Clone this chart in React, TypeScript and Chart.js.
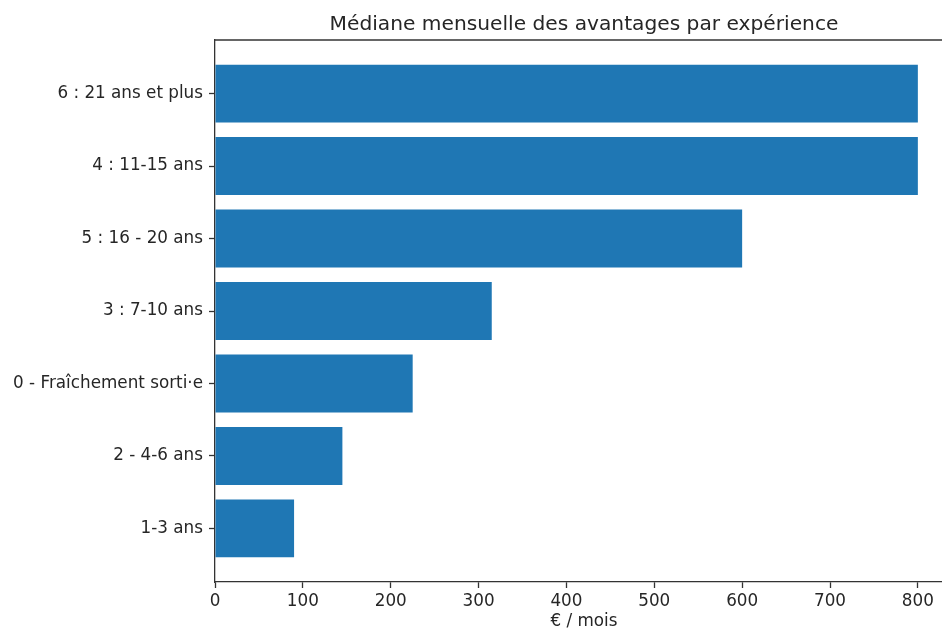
import React, { useEffect, useRef } from "react";
import { Chart, registerables } from "chart.js";

Chart.register(...registerables);

const categories: string[] = [
  "6 : 21 ans et plus",
  "4 : 11-15 ans",
  "5 : 16 - 20 ans",
  "3 : 7-10 ans",
  "0 - Fraîchement sorti·e",
  "2 - 4-6 ans",
  "1-3 ans",
];
const medianValues: number[] = [800, 800, 600, 315, 225, 145, 90];
const xTickValues: number[] = [0, 100, 200, 300, 400, 500, 600, 700, 800];
const titleText = "Médiane mensuelle des avantages par expérience";
const xAxisTitle = "€ / mois";

const FONT = "'DejaVu Sans', 'Noto Sans', sans-serif";
const TEXT = "#262626";
const AXIS = "#333333";

export default function App() {
  const ref = useRef<HTMLCanvasElement | null>(null);

  useEffect(() => {
    if (!ref.current) return;
    const framePlugin = {
      id: "frame",
      afterDraw(chart: any) {
        const { ctx, chartArea } = chart;
        ctx.save();
        ctx.strokeStyle = AXIS;
        ctx.lineWidth = 1.3;
        ctx.beginPath();
        ctx.moveTo(chartArea.left, chartArea.top);
        ctx.lineTo(chartArea.right, chartArea.top);
        ctx.stroke();
        ctx.fillStyle = TEXT;
        ctx.textAlign = "center";
        ctx.textBaseline = "alphabetic";
        ctx.font = `20.2px ${FONT}`;
        ctx.fillText(titleText, (chartArea.left + chartArea.right) / 2, 30);
        ctx.font = `16.8px ${FONT}`;
        ctx.fillText(xAxisTitle, (chartArea.left + chartArea.right) / 2, 626);
        ctx.restore();
      },
    };

    const chart = new Chart(ref.current, {
      type: "bar",
      data: {
        datasets: [
          {
            data: medianValues.map((v, i) => ({ x: v, y: i })) as any,
            backgroundColor: "#1f77b4",
            borderWidth: 0,
            categoryPercentage: 1,
            barPercentage: 0.8,
          },
        ],
      },
      plugins: [framePlugin],
      options: {
        indexAxis: "y",
        animation: false,
        responsive: false,
        maintainAspectRatio: false,
        layout: { padding: { left: 0, top: 40, right: 27, bottom: 0 } },
        plugins: {
          legend: { display: false },
          title: { display: false },
          tooltip: { enabled: false },
        },
        scales: {
          x: {
            type: "linear",
            min: 0,
            max: 840,
            afterBuildTicks: (axis: any) => {
              axis.ticks = xTickValues.map((v) => ({ value: v }));
            },
            afterFit: (axis: any) => {
              axis.height = 47;
            },
            grid: {
              display: true,
              drawOnChartArea: false,
              drawTicks: true,
              tickLength: 6,
              tickWidth: 1.3,
              tickColor: AXIS,
            },
            border: { display: true, color: AXIS, width: 1.3 },
            ticks: {
              padding: 4,
              maxRotation: 0,
              autoSkip: false,
              color: TEXT,
              font: { family: FONT, size: 16.8 },
            },
          },
          y: {
            type: "linear",
            min: -0.74,
            max: 6.74,
            reverse: true,
            offset: false,
            afterBuildTicks: (axis: any) => {
              axis.ticks = categories.map((_, i) => ({ value: i }));
            },
            afterFit: (axis: any) => {
              axis.width = 215;
            },
            grid: {
              display: true,
              offset: false,
              drawOnChartArea: false,
              drawTicks: true,
              tickLength: 6,
              tickWidth: 1.3,
              tickColor: AXIS,
            },
            border: { display: true, color: AXIS, width: 1.3 },
            ticks: {
              padding: 6,
              autoSkip: false,
              color: TEXT,
              font: { family: FONT, size: 16.8 },
              callback: (v: any) => categories[Math.round(Number(v))] ?? "",
            },
          },
        },
      },
    });
    return () => chart.destroy();
  }, []);

  return (
    <div
      style={{
        position: "fixed",
        left: 0,
        top: 0,
        width: 942,
        height: 629,
        overflow: "hidden",
        background: "#fff",
      }}
    >
      <canvas ref={ref} width={980} height={629} style={{ width: 980, height: 629, display: "block" }} />
    </div>
  );
}
